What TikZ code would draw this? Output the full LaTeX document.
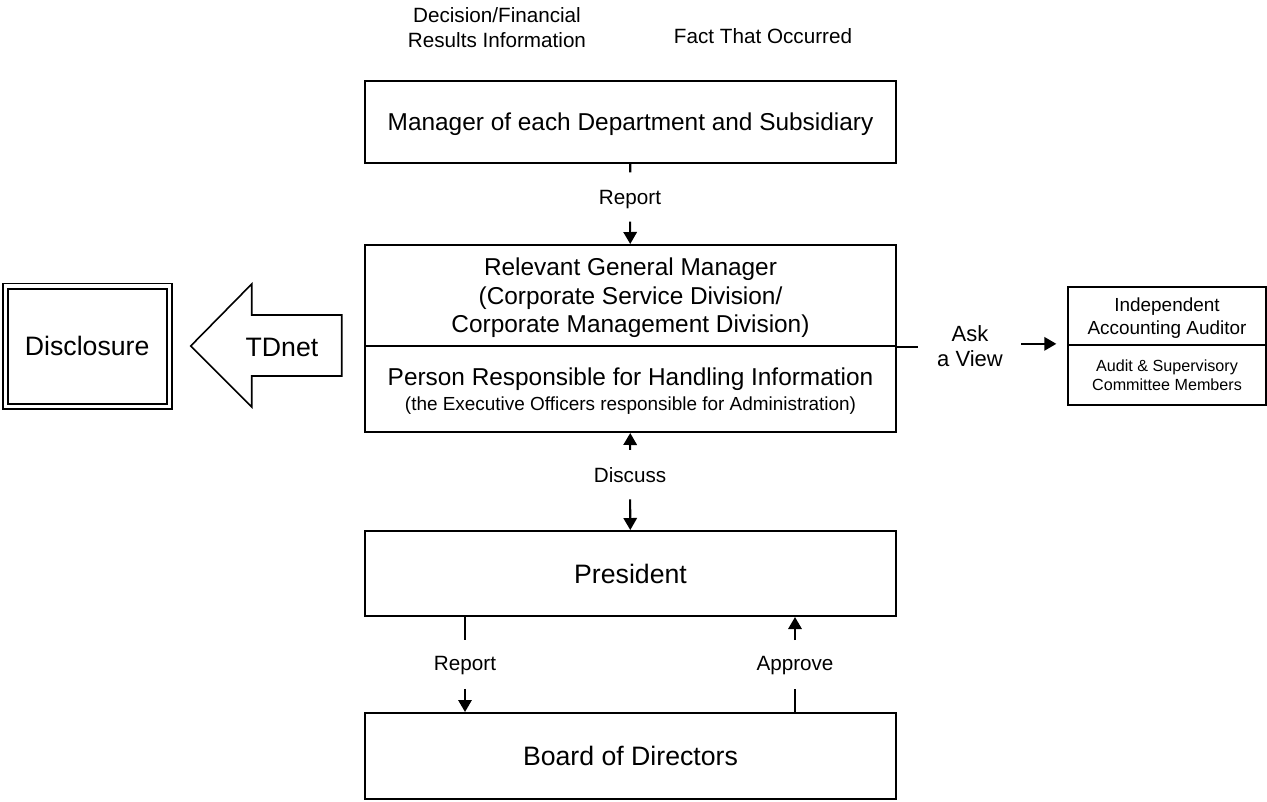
\documentclass[tikz,border=0pt]{standalone}
\usepackage{fontspec}
\setmainfont{Liberation Sans}
\usetikzlibrary{shapes,arrows.meta}

\begin{document}
\begin{tikzpicture}[x=.75pt,y=-.75pt,
  linea/.style={line width=1.6pt},
  flecha/.style={-{Triangle[length=9pt,width=10pt]},line width=1.6pt},
  caja/.style={draw,line width=1.5pt,minimum width=398.25pt,inner sep=0pt,align=center,
    text depth=0pt,font=\fontsize{18.3}{21.4}\selectfont},
  grande/.style={font=\fontsize{20}{24}\selectfont},
  etiqueta/.style={inner sep=0pt,align=center,font=\fontsize{15.5}{18.75}\selectfont}]
\useasboundingbox (0,0) rectangle (1267,801);
%
% cajas centrales
\node[caja,minimum height=61.5pt] (jefe) at (630.5,122) {Manager of each Department and Subsidiary};
\node[caja,minimum height=75.75pt] (gerente) at (630.5,295.5)
  {Relevant General Manager\\(Corporate Service Division/\\Corporate Management Division)};
\node[caja,minimum height=64.5pt,font=\fontsize{18.3}{18.75}\selectfont] (resp) at (630.5,389)
  {Person Responsible for Handling Information\\{\fontsize{14.2}{17}\selectfont(the Executive Officers responsible for Administration)}};
\node[caja,grande,minimum height=63.75pt] (pres) at (630.5,573.5) {President};
\node[caja,grande,minimum height=64.5pt] (consejo) at (630.5,756) {Board of Directors};
\draw[linea] (gerente.south east) -- ++(21,0);
%
% auditor y comite
\node[caja,minimum width=148.5pt,minimum height=43.5pt,font=\fontsize{14.2}{17.25}\selectfont]
  (auditor) at (1167,316) {Independent\\Accounting Auditor};
\node[caja,minimum width=148.5pt,minimum height=45pt,font=\fontsize{12.1}{14.25}\selectfont]
  (comite) at (1167,375) {Audit \& Supervisory\\Committee Members};
%
% divulgacion y TDnet
\node[draw,double,line width=1.4pt,double distance=2.4pt,minimum width=123pt,minimum height=90.5pt,
  grande] (divulga) at (87.2,346.4) {Disclosure};
\draw[line width=1.2pt] (190.7,346) -- (251.7,284) -- (251.7,315) -- (341.7,315)
  -- (341.7,376) -- (251.7,376) -- (251.7,407) -- cycle;
\node[grande] (tdnet) at (282,347) {TDnet};
%
% etiquetas
\node[etiqueta] (decision) at (497,27.5) {Decision/Financial\\Results Information};
\node[etiqueta] (hecho) at (763,36) {Fact That Occurred};
\node[etiqueta] (informe) at (630,200) {Report};
\node[etiqueta] (discute) at (630,475) {Discuss};
\node[etiqueta] (informeb) at (465,666) {Report};
\node[etiqueta] (aprueba) at (795,666) {Approve};
\node[inner sep=0pt,align=center,font=\fontsize{16.5}{18.75}\selectfont] (consulta) at (970,346.5) {Ask\\a View};
%
% flechas
\draw[linea,shorten >=13.5pt] (jefe) -- (informe);
\draw[flecha,shorten <=9pt] (informe) -- (gerente);
\draw[flecha,shorten <=13pt] (discute) -- (resp);
\draw[flecha,shorten <=12.4pt] (discute) -- (pres);
\draw[linea,shorten >=12.2pt] (informeb |- pres.south) -- (informeb);
\draw[flecha,shorten <=10pt] (informeb) -- (informeb |- consejo.north);
\draw[linea,shorten >=10pt] (aprueba |- consejo.north) -- (aprueba);
\draw[flecha,shorten <=12.2pt] (aprueba) -- (aprueba |- pres.south);
\draw[flecha,shorten <=13.5pt,shorten >=8pt] ([yshift=2pt]consulta.east) -- ([yshift=2pt]consulta.east -| auditor.west);
\end{tikzpicture}
\end{document}
